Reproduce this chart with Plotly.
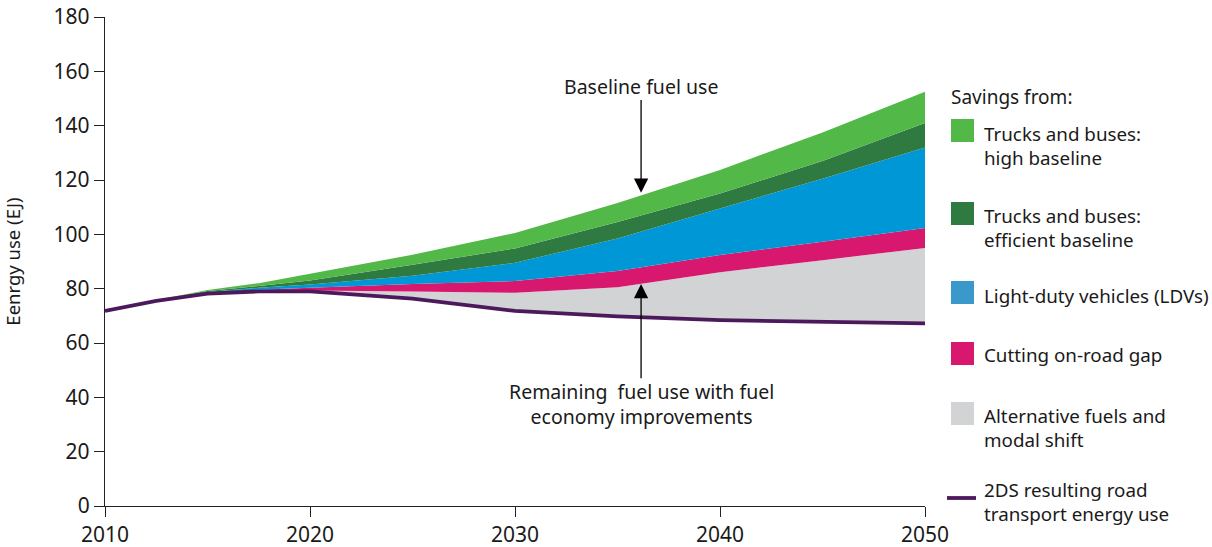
import plotly.graph_objects as go

# ---- data (EJ) ----
years = [2010, 2012.5, 2015, 2017.5, 2020, 2025, 2030, 2035, 2040, 2045, 2050]
road_2ds = [71.8, 75.5, 78.2, 79.0, 79.0, 76.3, 71.8, 69.8, 68.4, 67.8, 67.2]
alt_fuels = [0, 0, 0.1, 0.2, 0.3, 2.7, 6.7, 10.7, 17.6, 22.7, 27.8]
onroad_gap = [0, 0, 0.2, 0.4, 1.0, 2.7, 4.3, 6.0, 6.4, 6.8, 7.3]
ldvs = [0, 0.1, 0.3, 0.7, 1.2, 3.1, 6.7, 12.0, 17.1, 23.2, 29.7]
trucks_eff = [0, 0.1, 0.3, 0.7, 1.5, 4.0, 5.3, 6.0, 5.5, 6.5, 9.0]
trucks_high = [0, 0.1, 0.4, 1.0, 2.5, 3.7, 5.7, 7.0, 8.7, 10.5, 11.5]

x_ticks = [2010, 2020, 2030, 2040, 2050]
y_ticks = [0, 20, 40, 60, 80, 100, 120, 140, 160, 180]

FONT = "Noto Sans"
TXT = "#1a1a1a"

C_GREEN = "#52b848"
C_DGREEN = "#2f7a41"
C_BLUE = "#0097d7"
C_BLUE_LEG = "#3b98cb"
C_PINK = "#d8176e"
C_GREY = "#d1d3d4"
C_PURPLE = "#4c1a5c"

fig = go.Figure()

# invisible base (2DS) for stacking
fig.add_trace(go.Scatter(x=years, y=road_2ds, stackgroup="s", mode="none",
                         fillcolor="rgba(0,0,0,0)", hoverinfo="skip", showlegend=False))
for vals, col, name in [
    (alt_fuels, C_GREY, "Alternative fuels and modal shift"),
    (onroad_gap, C_PINK, "Cutting on-road gap"),
    (ldvs, C_BLUE, "Light-duty vehicles (LDVs)"),
    (trucks_eff, C_DGREEN, "Trucks and buses: efficient baseline"),
    (trucks_high, C_GREEN, "Trucks and buses: high baseline"),
]:
    fig.add_trace(go.Scatter(x=years, y=vals, stackgroup="s", mode="none",
                             fillcolor=col, name=name, showlegend=False))

fig.add_trace(go.Scatter(x=years, y=road_2ds, mode="lines",
                         line=dict(color=C_PURPLE, width=3.8),
                         name="2DS resulting road transport energy use", showlegend=False))

# ---- annotations with arrows ----
fig.add_annotation(x=2036.15, y=115.3, ax=2036.15, ay=150, xref="x", yref="y",
                   axref="x", ayref="y", text="", showarrow=True,
                   arrowhead=2, arrowsize=2.2, arrowwidth=1.3, arrowcolor="#000")
fig.add_annotation(x=2036.15, y=154.6, xref="x", yref="y", text="Baseline fuel use",
                   showarrow=False, font=dict(family=FONT, size=19.5, color=TXT),
                   xanchor="center", yanchor="middle")
fig.add_annotation(x=2036.15, y=81.7, ax=2036.15, ay=46.5, xref="x", yref="y",
                   axref="x", ayref="y", text="", showarrow=True,
                   arrowhead=2, arrowsize=2.2, arrowwidth=1.3, arrowcolor="#000")
fig.add_annotation(x=2036.15, y=37.4, xref="x", yref="y",
                   text="Remaining  fuel use with fuel<br>economy improvements",
                   showarrow=False, font=dict(family=FONT, size=19.5, color=TXT),
                   xanchor="center", yanchor="middle", align="center")

# ---- custom legend ----
L, R, T, B = 105, 925, 17, 506
def px(xp):
    return (xp - L) / (R - L)
def py(yp):
    return (B - yp) / (B - T)

fig.add_annotation(x=px(949), y=py(97), xref="paper", yref="paper", text="Savings from:",
                   showarrow=False, xanchor="left", yanchor="middle",
                   font=dict(family=FONT, size=19, color=TXT))
legend_items = [
    (C_GREEN, 119, 142, "Trucks and buses:<br>high baseline", 146),
    (C_DGREEN, 202, 225, "Trucks and buses:<br>efficient baseline", 228),
    (C_BLUE_LEG, 281, 304, "Light-duty vehicles (LDVs)", 296),
    (C_PINK, 342, 365, "Cutting on-road gap", 355),
    (C_GREY, 402, 425, "Alternative fuels and<br>modal shift", 428),
]
for col, y0, y1, txt, ty in legend_items:
    fig.add_shape(type="rect", xref="paper", yref="paper",
                  x0=px(951), x1=px(974), y0=py(y1), y1=py(y0),
                  fillcolor=col, line=dict(width=0))
    fig.add_annotation(x=px(982), y=py(ty), xref="paper", yref="paper", text=txt,
                       showarrow=False, xanchor="left", yanchor="middle", align="left",
                       font=dict(family=FONT, size=18.8, color=TXT))
fig.add_shape(type="line", xref="paper", yref="paper", x0=px(947), x1=px(976),
              y0=py(498), y1=py(498), line=dict(color=C_PURPLE, width=3.8))
fig.add_annotation(x=px(982), y=py(502), xref="paper", yref="paper",
                   text="2DS resulting road<br>transport energy use",
                   showarrow=False, xanchor="left", yanchor="middle", align="left",
                   font=dict(family=FONT, size=18.8, color=TXT))

fig.update_layout(
    width=1212, height=547,
    margin=dict(l=L, r=1212 - R, t=T, b=547 - B, autoexpand=False),
    paper_bgcolor="white", plot_bgcolor="white",
    font=dict(family=FONT, size=18, color=TXT),
    showlegend=False,
)
fig.update_xaxes(range=[2010, 2050], tickvals=x_ticks, ticktext=[str(v) for v in x_ticks],
                 showgrid=False, zeroline=False, showline=True, linecolor="#222", linewidth=1.3,
                 ticks="outside", ticklen=10, tickcolor="#222", tickwidth=1.3,
                 automargin=False,
                 tickfont=dict(family=FONT, size=21, color=TXT))
fig.update_yaxes(range=[0, 180], tickvals=y_ticks, showgrid=False, zeroline=False,
                 showline=True, linecolor="#222", linewidth=1.3,
                 ticks="outside", ticklen=10, tickcolor="#222", tickwidth=1.3,
                 automargin=False,
                 tickfont=dict(family=FONT, size=21, color=TXT),
                 title=dict(text="Eenrgy use (EJ)", standoff=30,
                            font=dict(family=FONT, size=18.5, color=TXT)))

fig.write_html("out.html", config={"displayModeBar": False},
               post_script="document.body.style.margin='0';document.body.style.overflow='hidden';")
